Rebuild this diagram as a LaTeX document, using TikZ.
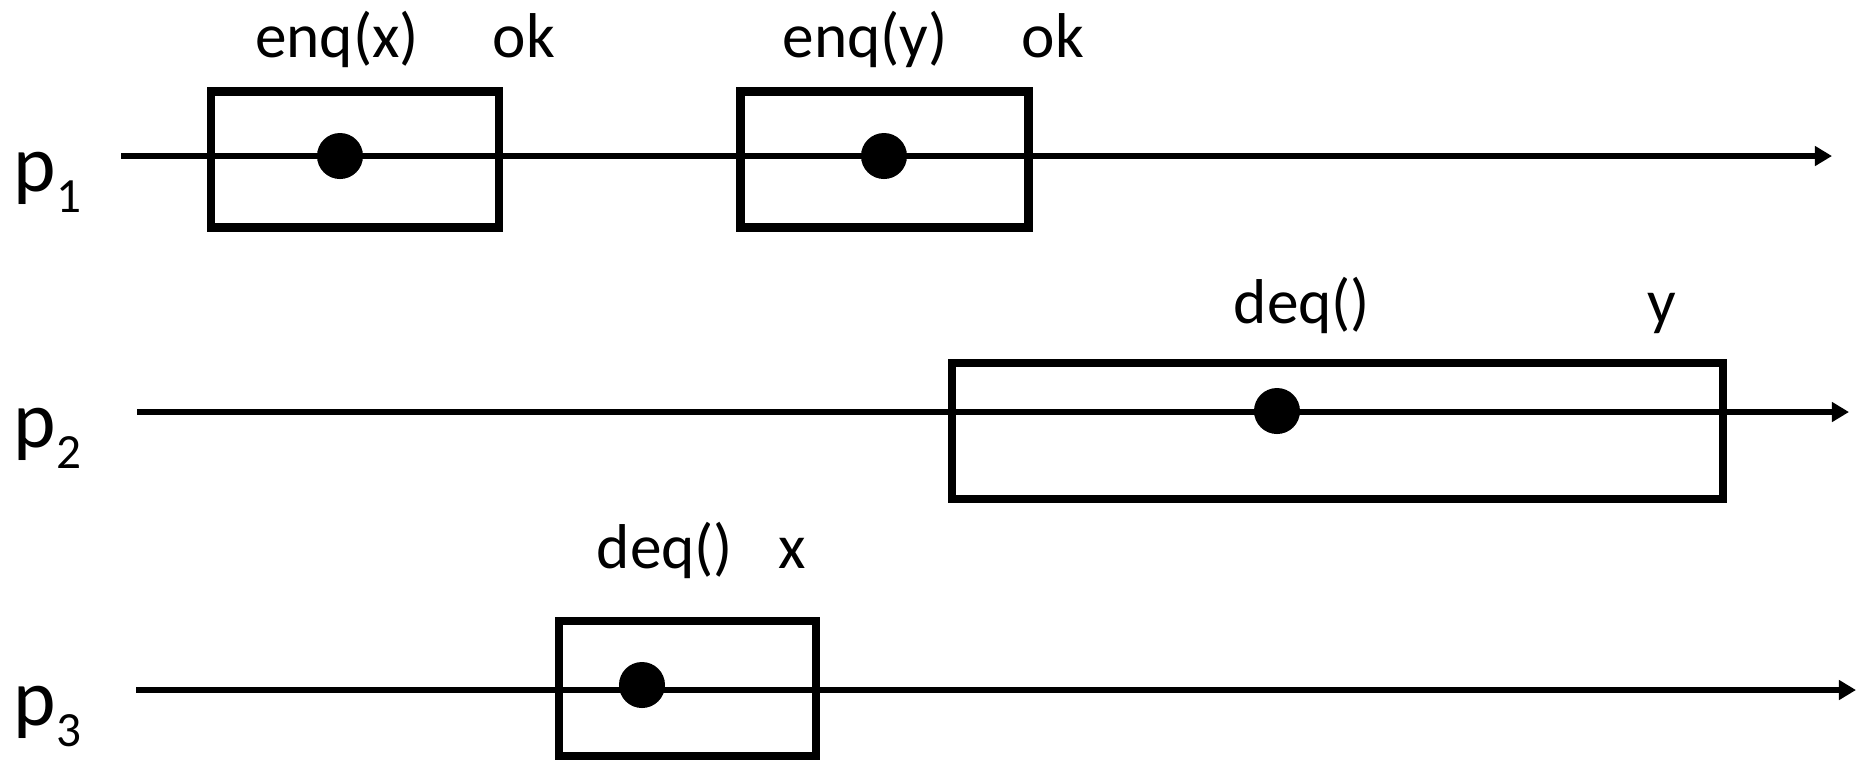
\documentclass[tikz,border=0pt]{standalone}
\usepackage{fontspec}
\setmainfont{Carlito}
\usetikzlibrary{positioning, arrows.meta}

\begin{document}
\begin{tikzpicture}[x=0.01cm, y=-0.01cm,
  timeline/.style={line width=1.8pt, -{Triangle[length=0.17cm, width=0.19cm]}},
  opbox/.style={draw, line width=2.4pt, inner sep=0pt},
  dot/.style={circle, fill, inner sep=0pt, minimum size=0.46cm},
  lbl/.style={anchor=base, inner sep=0pt, font=\fontsize{18}{20}\selectfont}]
\useasboundingbox (0,0) rectangle (1856,759);

% Process lines
\foreach \i/\y/\xs/\xe in {1/156/121/1832, 2/412/137/1849, 3/690/136/1856}{
  \coordinate (S\i) at (\xs,\y);
  \coordinate (E\i) at (\xe,\y);
  \draw[timeline] (S\i) -- (E\i);
  \node[anchor=base west, inner sep=0pt, font=\fontsize{23}{23}\selectfont] (P\i) at (13,\y+35)
    {p\raisebox{-0.21cm}{\fontsize{14}{14}\selectfont\i}};
}

% Operations
\node[opbox, minimum width=2.875cm, minimum height=1.36cm] (B1) at (355,159.5) {};
\node[opbox, minimum width=2.88cm, minimum height=1.36cm] (B2) at (884.5,159.5) {};
\node[opbox, minimum width=7.71cm, minimum height=1.36cm] (B3) at (1337.5,431) {};
\node[opbox, minimum width=2.57cm, minimum height=1.35cm] (B4) at (687.5,688.5) {};

% Linearization points
\node[dot] (D1) at (340,156) {};
\node[dot] (D2) at (884,156) {};
\node[dot] (D3) at (1277,411) {};
\node[dot] (D4) at (642,685) {};

% Invocations and responses
\foreach \name/\x/\y/\txt in {I1/337/57/enq(x), R1/524/57/ok, I2/865/57/enq(y), R2/1053/57/ok,
  I3/1302/323/deq(), R3/1662/323/y, I4/665/568/deq(), R4/792/568/x}{
  \node[lbl] (\name) at (\x,\y) {\txt};
}
\end{tikzpicture}
\end{document}
